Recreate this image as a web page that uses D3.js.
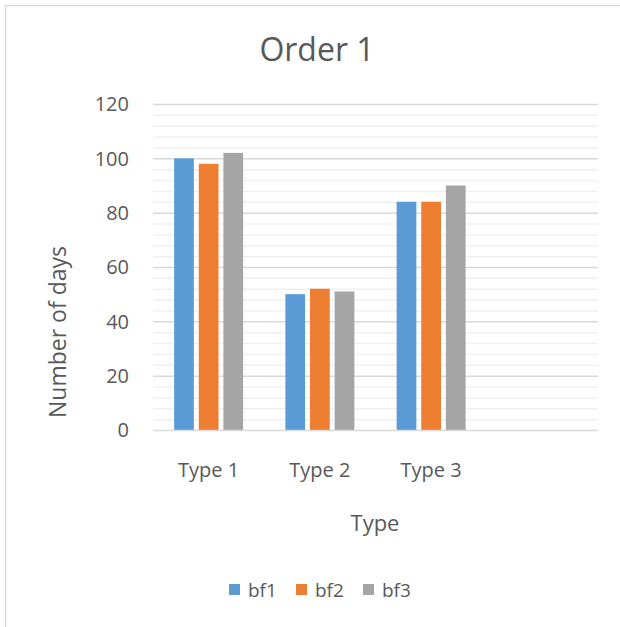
<!DOCTYPE html>
<html>
<head>
<meta charset="utf-8">
<script src="https://cdn.jsdelivr.net/npm/d3@7"></script>
<style>
  html, body { margin: 0; padding: 0; background: #fff; }
  svg { display: block; font-family: "Open Sans", sans-serif; }
</style>
</head>
<body>
<svg id="chart" width="620" height="627"></svg>
<script>
// Chart data
const categories = ["Type 1", "Type 2", "Type 3", ""];
const seriesNames = ["bf1", "bf2", "bf3"];
const bf1 = [100, 50, 84];
const bf2 = [98, 52, 84];
const bf3 = [102, 51, 90];
const yTicks = [0, 20, 40, 60, 80, 100, 120];
const colors = ["#5B9BD5", "#ED7D31", "#A5A5A5"];

const series = [bf1, bf2, bf3];
const svg = d3.select("#chart");

// Outer chart frame
svg.append("rect")
  .attr("x", 5.5).attr("y", 5.5)
  .attr("width", 700).attr("height", 700)
  .attr("fill", "#fff").attr("stroke", "#D9D9D9").attr("stroke-width", 1.5);

const plot = { left: 153, right: 598, top: 104, bottom: 430 };

const x = d3.scaleBand().domain(categories).range([plot.left, plot.right]);
const y = d3.scaleLinear().domain([0, 120]).range([plot.bottom, plot.top]);
const xInner = d3.scaleBand().domain(seriesNames)
  .range([0, 69]).paddingInner(0.2);

// Minor gridlines every 4 units
const minor = d3.range(0, 121, 4).filter(v => v % 20 !== 0);
svg.append("g").selectAll("line").data(minor).join("line")
  .attr("x1", plot.left).attr("x2", plot.right)
  .attr("y1", d => y(d) + 0.5).attr("y2", d => y(d) + 0.5)
  .attr("stroke", "#F0F0F0").attr("stroke-width", 1.5);

// Major gridlines
svg.append("g").selectAll("line").data(yTicks.filter(v => v > 0)).join("line")
  .attr("x1", plot.left).attr("x2", plot.right)
  .attr("y1", d => y(d) + 0.5).attr("y2", d => y(d) + 0.5)
  .attr("stroke", "#D9D9D9").attr("stroke-width", 1.5);

// Bars
series.forEach((vals, si) => {
  svg.append("g").selectAll("rect").data(vals).join("rect")
    .attr("x", (d, i) => x(categories[i]) + (x.bandwidth() - 69) / 2 + xInner(seriesNames[si]))
    .attr("width", xInner.bandwidth())
    .attr("y", d => y(d))
    .attr("height", d => y(0) - y(d))
    .attr("fill", colors[si]);
});

// Category axis line
svg.append("line")
  .attr("x1", plot.left).attr("x2", plot.right)
  .attr("y1", y(0) + 0.5).attr("y2", y(0) + 0.5)
  .attr("stroke", "#D9D9D9").attr("stroke-width", 1.5);

// Y tick labels
svg.append("g").selectAll("text").data(yTicks).join("text")
  .attr("x", 129).attr("y", d => y(d))
  .attr("dy", "0.36em")
  .attr("text-anchor", "end")
  .attr("font-size", 20).attr("fill", "#595959")
  .text(d => d);

// X category labels
svg.append("g").selectAll("text").data(categories).join("text")
  .attr("x", d => x(d) + x.bandwidth() / 2)
  .attr("y", 477)
  .attr("text-anchor", "middle")
  .attr("font-size", 20).attr("fill", "#595959")
  .text(d => d);

// Title
svg.append("text")
  .attr("x", 317).attr("y", 61)
  .attr("text-anchor", "middle")
  .attr("font-size", 32).attr("fill", "#595959")
  .text("Order 1");

// Axis titles
svg.append("text")
  .attr("x", 375).attr("y", 531)
  .attr("text-anchor", "middle")
  .attr("font-size", 22).attr("fill", "#595959")
  .text("Type");

svg.append("text")
  .attr("transform", "translate(66,332) rotate(-90)")
  .attr("text-anchor", "middle")
  .attr("font-size", 23).attr("fill", "#595959")
  .text("Number of days");

// Legend
const legendX = [229, 296, 363];
const legend = svg.append("g").selectAll("g").data(seriesNames).join("g")
  .attr("transform", (d, i) => `translate(${legendX[i]},584)`);
legend.append("rect")
  .attr("width", 11).attr("height", 11)
  .attr("fill", (d, i) => colors[i]);
legend.append("text")
  .attr("x", 19).attr("y", 13)
  .attr("font-size", 19).attr("fill", "#595959")
  .text(d => d);
</script>
</body>
</html>
